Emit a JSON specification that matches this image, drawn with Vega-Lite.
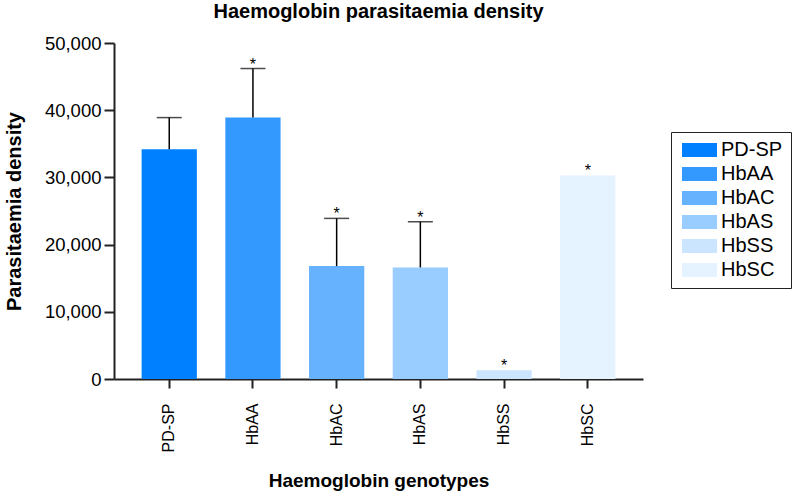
{
  "$schema": "https://vega.github.io/schema/vega-lite/v6.json",
  "autosize": {"type": "none"},
  "width": 529,
  "height": 336,
  "padding": {"left": 114, "top": 43, "right": 149, "bottom": 112},
  "background": "white",
  "config": {
    "view": {"stroke": null},
    "font": "Liberation Sans",
    "axis": {"grid": false, "domainColor": "#222", "tickColor": "#222", "domainWidth": 2, "tickWidth": 2, "labelColor": "black", "titleColor": "black", "labelFont": "Liberation Sans", "titleFont": "Liberation Sans", "titleFontWeight": "bold"}
  },
  "title": {"text": "Haemoglobin parasitaemia density", "fontSize": 20, "font": "Liberation Sans", "fontWeight": "bold", "color": "black", "anchor": "middle", "frame": "group", "baseline": "alphabetic", "offset": 5, "dy": 9},
  "data": {"values": [
    {"genotype": "PD-SP", "mean": 34200, "hi": 38900, "star": ""},
    {"genotype": "HbAA", "mean": 38900, "hi": 46200, "star": "*"},
    {"genotype": "HbAC", "mean": 16800, "hi": 23900, "star": "*"},
    {"genotype": "HbAS", "mean": 16600, "hi": 23400, "star": "*"},
    {"genotype": "HbSS", "mean": 1300, "hi": null, "star": "*"},
    {"genotype": "HbSC", "mean": 30300, "hi": null, "star": "*"}
  ]},
  "encoding": {
    "x": {"field": "genotype", "type": "nominal", "sort": null,
      "scale": {"paddingInner": 0.34, "paddingOuter": 0.33},
      "axis": {"title": "Haemoglobin genotypes", "titleFontSize": 19, "titlePadding": 20, "labelAngle": 270, "labelAlign": "right", "labelBaseline": "middle", "labelFontSize": 16, "tickSize": 9, "labelPadding": 15}}
  },
  "layer": [
    {
      "mark": {"type": "bar"},
      "encoding": {
        "y": {"field": "mean", "type": "quantitative", "scale": {"domain": [0, 50000], "nice": false},
          "axis": {"title": "Parasitaemia density", "titleFontSize": 20, "titlePadding": 20, "values": [0, 10000, 20000, 30000, 40000, 50000], "format": ",.0f", "labelFontSize": 18.5, "tickSize": 10, "labelPadding": 3}},
        "color": {"field": "genotype", "type": "nominal", "sort": null,
          "scale": {"domain": ["PD-SP", "HbAA", "HbAC", "HbAS", "HbSS", "HbSC"], "range": ["#0080FF", "#3399FF", "#66B2FF", "#99CCFF", "#CCE5FF", "#E5F2FF"]},
          "legend": {"title": null, "orient": "none", "legendX": 557, "legendY": 89, "strokeColor": "#222", "padding": 8, "symbolType": "M-2.5,-1H2.5V1H-2.5Z", "symbolSize": 196, "symbolStrokeWidth": 0, "symbolOpacity": 1, "labelFontSize": 20, "labelColor": "black", "labelFont": "Liberation Sans", "labelOffset": 11.5, "symbolOffset": 10.5, "rowPadding": 4}}
      }
    },
    {
      "transform": [{"filter": "isValid(datum.hi)"}],
      "mark": {"type": "rule", "color": "black", "strokeWidth": 1.5},
      "encoding": {"y": {"field": "mean", "type": "quantitative"}, "y2": {"field": "hi"}}
    },
    {
      "transform": [{"filter": "isValid(datum.hi)"}],
      "mark": {"type": "tick", "color": "black", "thickness": 1.5, "size": 25, "orient": "horizontal"},
      "encoding": {"y": {"field": "hi", "type": "quantitative"}}
    },
    {
      "transform": [{"filter": "isValid(datum.hi)"}],
      "mark": {"type": "text", "color": "black", "fontSize": 16, "baseline": "alphabetic", "dy": 1},
      "encoding": {"y": {"field": "hi", "type": "quantitative"}, "text": {"field": "star"}}
    },
    {
      "transform": [{"filter": "!isValid(datum.hi)"}],
      "mark": {"type": "text", "color": "black", "fontSize": 16, "baseline": "alphabetic", "dy": 1},
      "encoding": {"y": {"field": "mean", "type": "quantitative"}, "text": {"field": "star"}}
    }
  ]
}
